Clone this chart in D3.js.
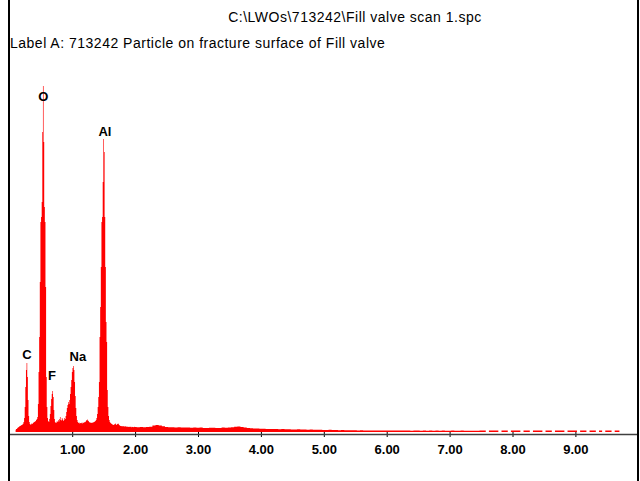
<!DOCTYPE html>
<html>
<head>
<meta charset="utf-8">
<script src="https://cdn.jsdelivr.net/npm/d3@7/dist/d3.min.js"></script>
<style>
  html, body { margin: 0; padding: 0; background: #fff; }
  svg { display: block; }
</style>
</head>
<body>
<svg id="chart" width="640" height="481"></svg>
<script>
// ---------- DATA ----------
const titleText = "C:\\LWOs\\713242\\Fill valve scan 1.spc";
const labelText = "Label A: 713242 Particle on fracture surface of Fill valve";

// Low-energy channels: 0.10 keV .. 1.99 keV, 0.01 keV per channel (counts)
const lowStart = 0.10, lowStep = 0.01;
const lowCounts = [
  20, 30, 30, 40, 45, 50, 55, 60, 62, 68,            // 0.10
  70, 75, 82, 100, 140, 250, 450, 620, 690, 550,     // 0.20  (C)
  320, 160, 100, 80, 72, 78, 88, 80, 90, 98,         // 0.30
  100, 105, 110, 120, 130, 150, 280, 600, 950, 1500, // 0.40
  2100, 2150, 2300, 3000, 3460, 2900, 2250, 2100, 1450, 550, // 0.50 (O)
  250, 140, 110, 100, 130, 180, 260, 330, 380, 410,  // 0.60  (F)
  350, 220, 130, 100, 90, 95, 110, 100, 120, 105,    // 0.70
  130, 150, 120, 115, 140, 125, 110, 120, 140, 130,  // 0.80
  160, 200, 240, 270, 300, 280, 320, 380, 450, 520,  // 0.90
  600, 640, 660, 620, 500, 360, 240, 160, 120, 100,  // 1.00  (Na)
  90, 95, 85, 90, 88, 92, 85, 95, 90, 100,           // 1.10
  95, 100, 110, 120, 125, 115, 110, 100, 95, 92,     // 1.20
  95, 90, 92, 95, 98, 100, 105, 110, 120, 140,       // 1.30
  180, 250, 350, 500, 950, 1250, 1650, 2100, 2150, 2500, // 1.40
  2930, 2800, 2150, 1650, 1100, 900, 420, 250, 160, 120, // 1.50 (Al)
  100, 90, 85, 80, 75, 72, 70, 75, 80, 85,           // 1.60
  70, 75, 80, 84, 78, 70, 62, 60, 58, 60,            // 1.70
  58, 56, 60, 55, 54, 58, 52, 55, 53, 50,            // 1.80
  52, 50, 54, 50, 48, 52, 50, 48, 50, 52             // 1.90
];

// High-energy tail: 2.00 keV .. 9.70 keV, 0.05 keV per channel (counts)
const tailStart = 2.00, tailStep = 0.05;
const tailCounts = [
  50, 48, 50, 47, 50, 52, 65, 70, 66, 58,   // 2.00
  50, 48, 47, 46, 48, 45, 44, 46, 43, 44,   // 2.50
  42, 44, 41, 40, 43, 42, 40, 41, 44, 42,   // 3.00
  45, 48, 52, 55, 50, 45, 40, 38, 36, 35,   // 3.50
  33, 32, 30, 31, 30, 29, 28, 30, 27, 28,   // 4.00
  26, 25, 27, 24, 25, 23, 24, 22, 23, 22,   // 4.50
  21, 20, 22, 19, 20, 18, 19, 18, 17, 18,   // 5.00
  17, 16, 18, 15, 16, 15, 15, 16, 15, 15,   // 5.50
  15, 14, 15, 14, 15, 14, 15, 14, 13, 14,   // 6.00
  14, 13, 14, 13, 14, 13, 14, 13, 14, 13,   // 6.50
  13, 14, 13, 13, 14, 13, 13, 12, 13, 12,   // 7.00
  15, 15, 0, 15, 15, 15, 0, 15, 15, 0,      // 7.50
  15, 15, 15, 0, 15, 15, 0, 15, 15, 15,     // 8.00
  0, 15, 15, 0, 15, 15, 15, 0, 15, 15,      // 8.50
  15, 0, 15, 15, 0, 15, 15, 0, 15, 0,       // 9.00
  15, 15, 0, 15, 15                         // 9.50
];

const tickValues = [1, 2, 3, 4, 5, 6, 7, 8, 9];

const elementNames    = ["C", "O", "F", "Na", "Al"];
const labelEnergies   = [0.28, 0.54, 0.68, 1.09, 1.52];
const labelLevels     = [735, 3310, 525, 710, 2960];

// ---------- BUILD ----------
const spectrum = [];
lowCounts.forEach((c, i) => spectrum.push({ e: lowStart + i * lowStep, c }));
tailCounts.forEach((c, i) => spectrum.push({ e: tailStart + i * tailStep, c }));

const svg = d3.select("#chart");
svg.append("rect").attr("width", 640).attr("height", 481).attr("fill", "#fff");

const x = d3.scaleLinear().domain([0, 10]).range([9.3, 638.3]);
const y = d3.scaleLinear().domain([0, 3500]).range([432, 82]);

// spectrum fill
const area = d3.area()
  .x(d => x(d.e))
  .y0(y(0))
  .y1(d => y(d.c))
  .curve(d3.curveStep);

svg.append("path")
  .datum(spectrum)
  .attr("d", area)
  .attr("fill", "#ff0000")
  .attr("stroke", "none");

// frame
svg.append("rect").attr("x", 8).attr("y", 0).attr("width", 2).attr("height", 481).attr("fill", "#000");
svg.append("rect").attr("x", 637).attr("y", 0).attr("width", 2).attr("height", 481).attr("fill", "#000");

// x axis
const axisY = 434;
const axis = d3.axisBottom(x)
  .tickValues(tickValues)
  .tickFormat(d3.format(".2f"))
  .tickSize(3)
  .tickSizeOuter(0);

const gAxis = svg.append("g")
  .attr("transform", `translate(0,${axisY})`)
  .call(axis);

gAxis.select(".domain").remove();
gAxis.selectAll(".tick line")
  .attr("y1", -2).attr("y2", 3)
  .attr("stroke", "#000").attr("stroke-width", 1);
gAxis.selectAll(".tick text")
  .attr("y", 19.5).attr("dy", 0)
  .attr("fill", "#000")
  .style("font-family", "'Liberation Sans', Arial, sans-serif")
  .style("font-size", "13px")
  .style("font-weight", "bold");

svg.append("line")
  .attr("x1", 10).attr("x2", 637)
  .attr("y1", axisY + 0.5).attr("y2", axisY + 0.5)
  .attr("stroke", "#404040").attr("stroke-width", 1.6);

// titles
const headFont = "'Liberation Sans', Arial, sans-serif";
svg.append("text")
  .attr("x", 355).attr("y", 22)
  .attr("text-anchor", "middle")
  .style("font-family", headFont)
  .style("font-size", "14px")
  .style("letter-spacing", "0.5px")
  .attr("fill", "#000")
  .text(titleText);

svg.append("text")
  .attr("x", 10).attr("y", 48)
  .style("font-family", headFont)
  .style("font-size", "14px")
  .style("letter-spacing", "0.5px")
  .attr("fill", "#000")
  .text(labelText);

// element labels
svg.selectAll(".elem")
  .data(elementNames)
  .enter().append("text")
  .attr("class", "elem")
  .attr("x", (d, i) => x(labelEnergies[i]))
  .attr("y", (d, i) => y(labelLevels[i]))
  .attr("text-anchor", "middle")
  .style("font-family", "'Liberation Sans', Arial, sans-serif")
  .style("font-size", "13px")
  .style("font-weight", "bold")
  .attr("fill", "#000")
  .text(d => d);
</script>
</body>
</html>
